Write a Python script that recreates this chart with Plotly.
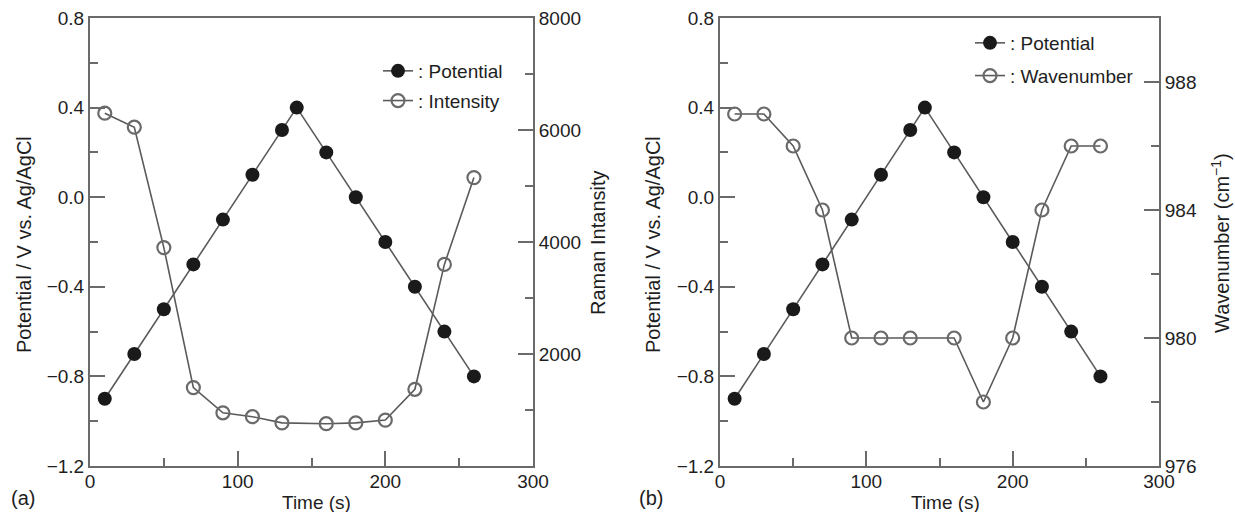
import plotly.graph_objects as go

# ---- data ----
time_potential = [10, 30, 50, 70, 90, 110, 130, 140, 160, 180, 200, 220, 240, 260]
potential = [-0.9, -0.7, -0.5, -0.3, -0.1, 0.1, 0.3, 0.4, 0.2, 0.0, -0.2, -0.4, -0.6, -0.8]

time_intensity = [10, 30, 50, 70, 90, 110, 130, 160, 180, 200, 220, 240, 260]
intensity = [6300, 6050, 3900, 1400, 950, 880, 770, 755, 770, 820, 1370, 3600, 5150]

time_wavenumber = [10, 30, 50, 70, 90, 110, 130, 160, 180, 200, 220, 240, 260]
wavenumber = [987, 987, 986, 984, 980, 980, 980, 980, 978, 980, 984, 986, 986]

x_ticks = [0, 100, 200, 300]
pot_ticks = [-1.2, -0.8, -0.4, 0.0, 0.4, 0.8]
int_ticks = [2000, 4000, 6000, 8000]
wn_ticks = [976, 980, 984, 988]

# ---- styles ----
FONT = "Liberation Sans, Arial, sans-serif"
TXT = "#1e1e1e"
LINE = "#5a5a5a"
FRAME = "#6a6a6a"
W, H = 1235, 512

def px(v):
    return v / W

def py(v):
    return 1 - v / H

fig = go.Figure()

fig.add_trace(go.Scatter(
    x=time_intensity, y=intensity, xaxis="x", yaxis="y2", mode="lines+markers",
    name=": Intensity", legend="legend", legendgroup="b", legendrank=2,
    line=dict(color=LINE, width=1.6),
    marker=dict(symbol="circle-open", size=13, color="#6a6a6a", line=dict(width=2.2, color="#6a6a6a")),
))
fig.add_trace(go.Scatter(
    x=time_potential, y=potential, xaxis="x", yaxis="y", mode="lines+markers",
    name=": Potential", legend="legend", legendgroup="a", legendrank=1,
    line=dict(color=LINE, width=1.6),
    marker=dict(symbol="circle", size=14, color="#1a1a1a"),
))
fig.add_trace(go.Scatter(
    x=time_wavenumber, y=wavenumber, xaxis="x2", yaxis="y4", mode="lines+markers",
    name=": Wavenumber", legend="legend2", legendgroup="d", legendrank=2,
    line=dict(color=LINE, width=1.6),
    marker=dict(symbol="circle-open", size=13, color="#6a6a6a", line=dict(width=2.2, color="#6a6a6a")),
))
fig.add_trace(go.Scatter(
    x=time_potential, y=potential, xaxis="x2", yaxis="y3", mode="lines+markers",
    name=": Potential", legend="legend2", legendgroup="c", legendrank=1,
    line=dict(color=LINE, width=1.6),
    marker=dict(symbol="circle", size=14, color="#1a1a1a"),
))

tickfont = dict(family=FONT, size=19, color=TXT)
common_axis = dict(
    showline=True, linecolor=FRAME, linewidth=2, showgrid=False, zeroline=False,
    ticks="inside", ticklen=15, tickwidth=1.6, tickcolor=FRAME, tickfont=tickfont,
    automargin=False, ticklabeloverflow="allow",
)
minor_style = dict(ticks="inside", ticklen=8, tickwidth=1.6, tickcolor=FRAME, showgrid=False)

xdom1 = [px(90), px(533)]
xdom2 = [px(720), px(1159)]
ydom = [py(466), py(18)]

fig.update_layout(
    template="none",
    width=W, height=H,
    margin=dict(l=0, r=0, t=0, b=0, pad=0),
    paper_bgcolor="white", plot_bgcolor="white",
    font=dict(family=FONT, size=19, color=TXT),
    xaxis=dict(domain=xdom1, range=[0, 300], tickvals=x_ticks, mirror=True, anchor="y",
               ticklabelstandoff=-3, minor=dict(dtick=50, **minor_style), **common_axis),
    yaxis=dict(domain=ydom, range=[-1.2, 0.8], tickvals=pot_ticks, tickformat=".1f",
               anchor="x", minor=dict(dtick=0.2, tick0=0, **minor_style), **common_axis),
    yaxis2=dict(range=[0, 8000], tickvals=int_ticks, overlaying="y", side="right", anchor="x",
                minor=dict(dtick=1000, tick0=0, **minor_style), **common_axis),
    xaxis2=dict(domain=xdom2, range=[0, 300], tickvals=x_ticks, mirror=True, anchor="y3",
                ticklabelstandoff=-3, minor=dict(dtick=50, **minor_style), **common_axis),
    yaxis3=dict(domain=ydom, range=[-1.2, 0.8], tickvals=pot_ticks, tickformat=".1f",
                anchor="x2", minor=dict(dtick=0.2, tick0=0, **minor_style), **common_axis),
    yaxis4=dict(range=[976, 990], tickvals=wn_ticks, overlaying="y3", side="right", anchor="x2",
                minor=dict(dtick=2, tick0=976, **minor_style), **common_axis),
    legend=dict(x=px(378), y=py(52), xanchor="left", yanchor="top", bgcolor="rgba(0,0,0,0)",
                borderwidth=0, font=dict(family=FONT, size=19, color=TXT), tracegroupgap=2,
                traceorder="grouped"),
    legend2=dict(x=px(970), y=py(24), xanchor="left", yanchor="top", bgcolor="rgba(0,0,0,0)",
                 borderwidth=0, font=dict(family=FONT, size=19, color=TXT), tracegroupgap=5,
                 traceorder="grouped"),
    showlegend=True,
)

annots = [
    dict(text="Potential / V vs. Ag/AgCl", x=px(24), y=py(245), textangle=-90, size=20),
    dict(text="Raman Intansity", x=px(598), y=py(243), textangle=-90, size=20),
    dict(text="Time (s)", x=px(316), y=py(502), textangle=0, size=19),
    dict(text="(a)", x=px(23), y=py(498), textangle=0, size=20),
    dict(text="Potential / V vs. Ag/AgCl", x=px(653), y=py(245), textangle=-90, size=20),
    dict(text="Wavenumber (cm<sup>−1</sup>)", x=px(1220), y=py(243), textangle=-90, size=20),
    dict(text="Time (s)", x=px(945), y=py(502), textangle=0, size=19),
    dict(text="(b)", x=px(651), y=py(498), textangle=0, size=20),
]
for a in annots:
    fig.add_annotation(
        text=a["text"], x=a["x"], y=a["y"], xref="paper", yref="paper",
        xanchor="center", yanchor="middle", textangle=a["textangle"], showarrow=False,
        font=dict(family=FONT, size=a["size"], color=TXT),
    )

fig.write_html(
    "out.html",
    config={"displayModeBar": False},
    post_script="document.body.style.margin='0px';document.body.style.overflow='hidden';",
)
